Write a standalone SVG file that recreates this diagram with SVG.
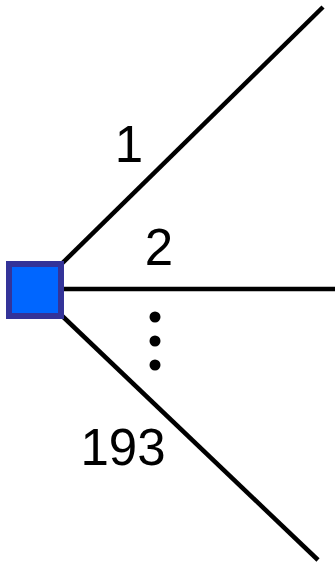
<svg xmlns="http://www.w3.org/2000/svg" width="335" height="563" viewBox="0 0 335 563">
<style>
.edge{stroke:#000;stroke-width:4.5;fill:none}
.lbl{font-family:"Liberation Sans",Arial,sans-serif;font-size:51px;fill:#000;text-anchor:middle}
</style>
<rect width="335" height="563" fill="#fff"/>
<g id="connectors">
<line class="edge" x1="35" y1="290" x2="323" y2="7"/>
<line class="edge" x1="35" y1="289" x2="335" y2="289"/>
<line class="edge" x1="35" y1="290" x2="318" y2="560"/>
</g>
<g id="labels">
<text class="lbl" x="129" y="162">1</text>
<text class="lbl" x="159" y="265">2</text>
<text class="lbl" x="123" y="465">193</text>
<circle cx="155" cy="317" r="5.5"/>
<circle cx="155" cy="341" r="5.5"/>
<circle cx="155" cy="365" r="5.5"/>
</g>
<g id="node">
<rect x="9" y="264" width="52" height="52" fill="#0066ff" stroke="#333399" stroke-width="6"/>
</g>
</svg>
